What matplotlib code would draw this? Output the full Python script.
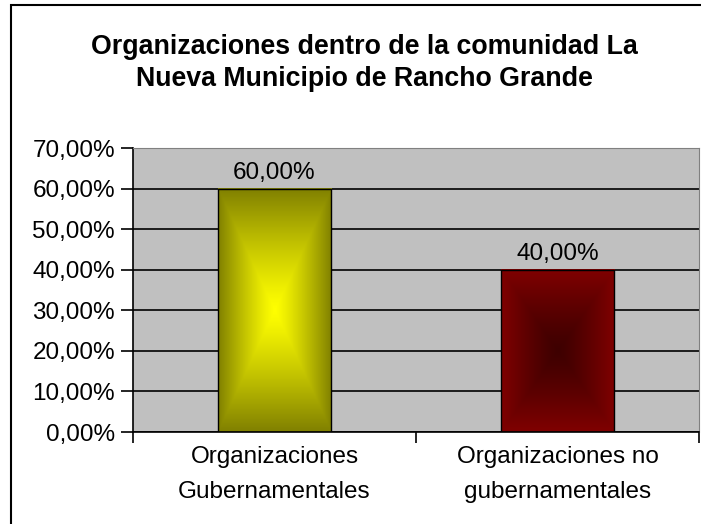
import numpy as np
import matplotlib.pyplot as plt
from matplotlib.patches import Rectangle

plt.rcParams['font.family'] = ['Liberation Sans', 'DejaVu Sans']

# Datos del gráfico
categorias = ["Organizaciones\nGubernamentales", "Organizaciones no\ngubernamentales"]
valores = [60.0, 40.0]
ticks_y = [0, 10, 20, 30, 40, 50, 60, 70]
titulo = "Organizaciones dentro de la comunidad La\nNueva Municipio de Rancho Grande"

# Colores del degradado (borde, centro)
colores = [((128, 128, 0), (255, 255, 0)), ((128, 0, 0), (62, 0, 0))]

W, H = 701, 524
fig = plt.figure(figsize=(W / 100, H / 100), dpi=100)

# Borde del área del gráfico (recortado a la derecha y abajo)
fig.patches.append(Rectangle((11 / W, -0.05), 1.1, 1 - 5 / H + 0.05, transform=fig.transFigure,
                             fill=False, edgecolor='black', linewidth=1.5))

ax = fig.add_axes([133 / W, (H - 432) / H, 566 / W, (432 - 148) / H])
ax.set_facecolor('#c0c0c0')

x = np.arange(len(valores))
barras = ax.bar(x, valores, width=0.4, facecolor='none', edgecolor='black', linewidth=1, zorder=3)

# Degradado "desde el centro" dentro de cada barra
n = 200
u = np.linspace(-1, 1, n)
U, V = np.meshgrid(u, u)
t = np.maximum(np.abs(U), np.abs(V)) ** 1.2
for barra, (borde, centro) in zip(barras, colores):
    borde = np.array(borde) / 255
    centro = np.array(centro) / 255
    img = centro[None, None, :] + (borde - centro)[None, None, :] * t[:, :, None]
    x0, y0 = barra.get_x(), barra.get_y()
    ax.imshow(img, extent=[x0, x0 + barra.get_width(), y0, y0 + barra.get_height()],
              aspect='auto', zorder=2, interpolation='bilinear')
    ax.text(barra.get_x() + barra.get_width() / 2, barra.get_height() + 1.2,
            f"{barra.get_height():.2f}%".replace('.', ','), ha='center', va='bottom', fontsize=17.5)

ax.set_xlim(-0.5, len(valores) - 0.5)
ax.set_ylim(0, 70)
ax.set_yticks(ticks_y)
ax.set_yticklabels([f"{v:.2f}%".replace('.', ',') for v in ticks_y], fontsize=17.5)
ax.yaxis.grid(True, color='black', linewidth=1.2)
ax.set_axisbelow(True)

ax.set_xticks(x)
ax.set_xticklabels(categorias, fontsize=17.5, linespacing=1.75)
ax.tick_params(axis='x', length=0, pad=10)
ax.set_xticks(np.arange(len(valores) + 1) - 0.5, minor=True)
ax.tick_params(axis='x', which='minor', length=8, width=1.2, direction='out', color='black')
ax.tick_params(axis='y', length=9, width=1.2, direction='out', pad=4)

for lado in ['top', 'right']:
    ax.spines[lado].set_color('#808080')
for lado in ['left', 'bottom']:
    ax.spines[lado].set_color('black')
    ax.spines[lado].set_linewidth(1.2)

fig.text(364 / W, 1 - 63 / H, titulo, ha='center', va='center', fontsize=19.3,
         fontweight='bold', linespacing=1.3)

plt.savefig("out.png", dpi=100)
